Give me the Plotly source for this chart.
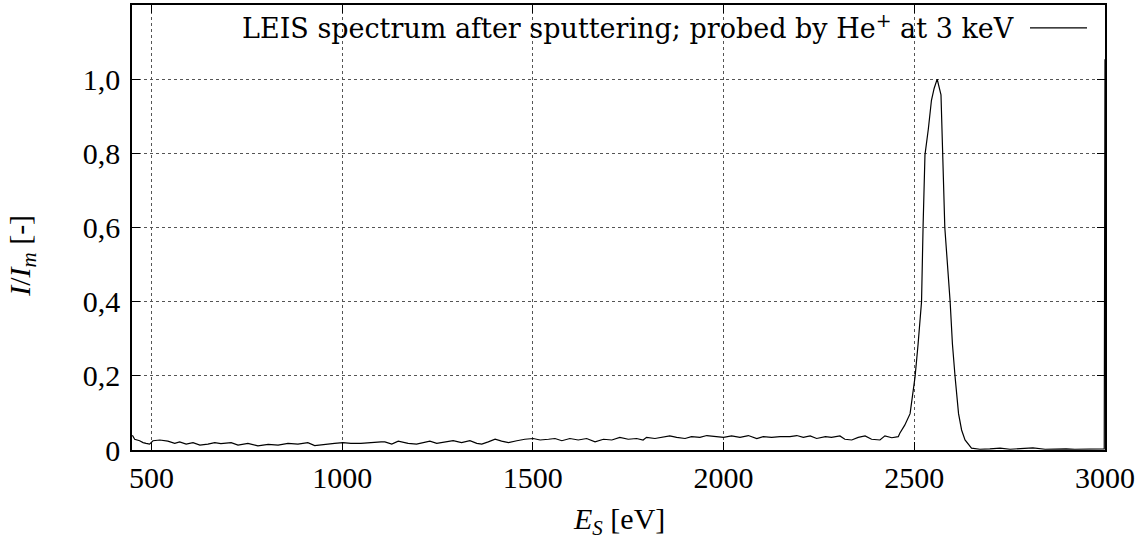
import plotly.graph_objects as go

# Energy (eV) and normalised intensity I/I_m
energy = [450, 456, 469, 478, 486, 495, 504, 522, 543, 561, 574, 591, 609, 627, 648, 666, 682,
          709, 727, 753, 779, 806, 832, 858, 884, 910, 928, 954, 980, 1002, 1023, 1049, 1076,
          1102, 1112, 1130, 1147, 1173, 1195, 1217, 1230, 1248, 1270, 1291, 1313, 1335, 1353,
          1366, 1383, 1401, 1418, 1436, 1458, 1479, 1501, 1519, 1541, 1558, 1576, 1597, 1619,
          1641, 1663, 1685, 1707, 1728, 1750, 1772, 1789, 1798, 1820, 1842, 1859, 1877, 1899,
          1916, 1938, 1956, 1978, 2000, 2021, 2043, 2065, 2087, 2104, 2126, 2148, 2174, 2192,
          2209, 2227, 2244, 2267, 2283, 2305, 2318, 2336, 2353, 2371, 2388, 2410, 2423, 2441,
          2458, 2462, 2467, 2475, 2489, 2497, 2502, 2510, 2519, 2523, 2528, 2537, 2545, 2552,
          2560, 2570, 2576, 2580, 2594, 2600, 2607, 2616, 2624, 2633, 2650, 2672, 2698, 2725,
          2751, 2777, 2811, 2843, 2869, 2898, 2921, 2947, 2979, 2998, 3000]
intensity = [0.040, 0.029, 0.025, 0.020, 0.018, 0.016, 0.025, 0.027, 0.024, 0.018, 0.022, 0.016,
             0.020, 0.013, 0.016, 0.020, 0.017, 0.020, 0.013, 0.018, 0.011, 0.015, 0.013, 0.018,
             0.016, 0.020, 0.012, 0.016, 0.018, 0.020, 0.018, 0.018, 0.021, 0.022, 0.022, 0.016,
             0.024, 0.018, 0.016, 0.020, 0.024, 0.018, 0.022, 0.025, 0.020, 0.025, 0.018, 0.016,
             0.022, 0.029, 0.024, 0.020, 0.025, 0.029, 0.031, 0.027, 0.029, 0.031, 0.025, 0.031,
             0.027, 0.031, 0.022, 0.029, 0.027, 0.034, 0.029, 0.031, 0.027, 0.034, 0.031, 0.036,
             0.038, 0.034, 0.031, 0.036, 0.034, 0.039, 0.036, 0.034, 0.038, 0.034, 0.039, 0.031,
             0.036, 0.034, 0.036, 0.036, 0.039, 0.034, 0.038, 0.031, 0.036, 0.034, 0.038, 0.029,
             0.027, 0.034, 0.038, 0.029, 0.027, 0.038, 0.033, 0.036, 0.045, 0.054, 0.067, 0.098,
             0.152, 0.197, 0.286, 0.400, 0.600, 0.796, 0.867, 0.943, 0.975, 1.000, 0.958, 0.778,
             0.600, 0.400, 0.286, 0.197, 0.098, 0.054, 0.027, 0.005, 0.002, 0.003, 0.005, 0.002,
             0.003, 0.006, 0.002, 0.003, 0.003, 0.002, 0.003, 0.004, 0.003, 1.054]

x_ticks = [500, 1000, 1500, 2000, 2500, 3000]
x_ticklabels = ["500", "1000", "1500", "2000", "2500", "3000"]
y_ticks = [0, 0.2, 0.4, 0.6, 0.8, 1.0]
y_ticklabels = ["0", "0,2", "0,4", "0,6", "0,8", "1,0"]

legend_text = "LEIS spectrum after sputtering; probed by He<sup>+</sup> at 3 keV"
x_title = "<i>E</i><sub><i>S</i></sub> [eV]"
y_title = "<i>I</i>/<i>I</i><sub><i>m</i></sub> [-]"

FONT = "Liberation Serif"
LEGEND_FONT = "DejaVu Serif"

fig = go.Figure()
fig.add_trace(go.Scatter(x=energy, y=intensity, mode="lines",
                         line=dict(color="black", width=1.2), showlegend=False))

axis_common = dict(
    showline=True, linecolor="black", linewidth=1.5, mirror="allticks",
    ticks="inside", ticklen=8, tickwidth=1, tickcolor="black",
    showgrid=True, gridcolor="#555555", griddash="dot", gridwidth=1,
    zeroline=False, tickfont=dict(family=FONT, size=30, color="black"),
)

fig.update_xaxes(range=[449, 3000], tickvals=x_ticks, ticktext=x_ticklabels,
                 ticklabelstandoff=0, **axis_common)
fig.update_yaxes(range=[0, 1.2], tickvals=y_ticks, ticktext=y_ticklabels,
                 ticklabelstandoff=4, **axis_common)

fig.update_layout(
    width=1148, height=545,
    margin=dict(l=132, r=43, t=3, b=95),
    paper_bgcolor="white", plot_bgcolor="white",
    font=dict(family=FONT, size=30, color="black"),
    showlegend=False,
    annotations=[
        dict(text=legend_text, xref="paper", yref="paper", x=(1016 - 132) / 973,
             y=(450 - 25) / 447, xanchor="right", yanchor="middle", showarrow=False,
             font=dict(family=LEGEND_FONT, size=27, color="black")),
        dict(text=x_title, xref="paper", yref="paper", x=0.5, y=(450 - 521) / 447,
             xanchor="center", yanchor="middle", showarrow=False,
             font=dict(family=FONT, size=30, color="black")),
        dict(text=y_title, xref="paper", yref="paper", x=(22 - 132) / 973,
             y=(450 - 255) / 447, xanchor="center", yanchor="middle", textangle=-90,
             showarrow=False, font=dict(family=FONT, size=30, color="black")),
    ],
    shapes=[
        dict(type="line", xref="paper", yref="paper",
             x0=(1030 - 132) / 973, x1=(1087 - 132) / 973,
             y0=(450 - 26) / 447, y1=(450 - 26) / 447,
             line=dict(color="black", width=1.2)),
    ],
)

fig.write_html("out.html")
